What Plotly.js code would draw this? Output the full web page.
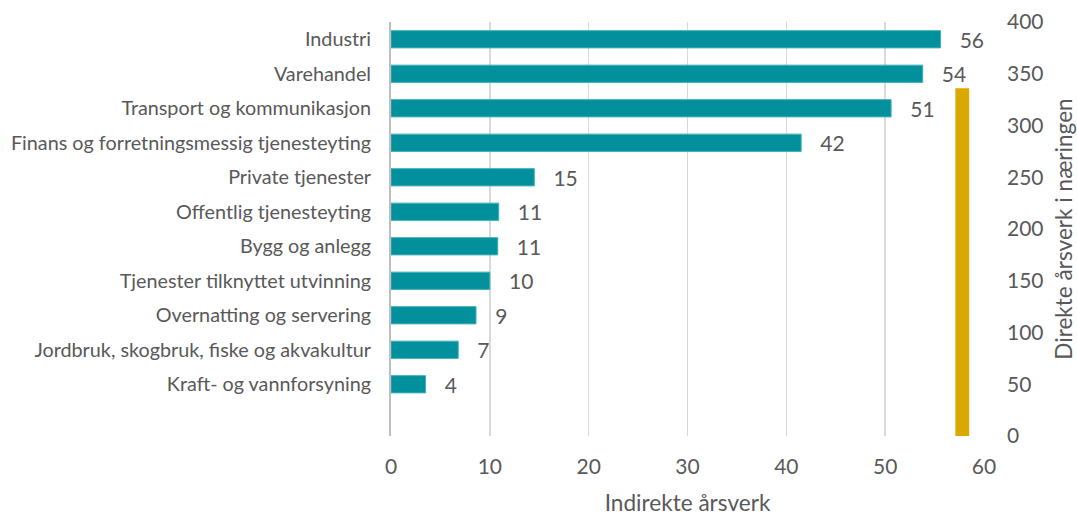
<!DOCTYPE html>
<html>
<head>
<meta charset="utf-8">
<script src="https://cdn.plot.ly/plotly-3.0.1.min.js"></script>
<style>html,body{margin:0;padding:0;background:#fff;}#chart{width:1077px;height:516px;}</style>
</head>
<body>
<div id="chart"></div>
<script>
const categories = [
  "Industri",
  "Varehandel",
  "Transport og kommunikasjon",
  "Finans og forretningsmessig tjenesteyting",
  "Private tjenester",
  "Offentlig tjenesteyting",
  "Bygg og anlegg",
  "Tjenester tilknyttet utvinning",
  "Overnatting og servering",
  "Jordbruk, skogbruk, fiske og akvakultur",
  "Kraft- og vannforsyning"
];
const indirekte = [55.6, 53.8, 50.6, 41.5, 14.5, 10.9, 10.8, 10.0, 8.6, 6.8, 3.5];
const direkteLabel = ["Direkte årsverk i næringen"];
const direkte = [336];

// layout/style constants
const DIRECT_BAR_X = 57.8;
const FONT = "Lato, Open Sans, sans-serif";
const GREY = "#595959";

const traces = [
  {
    type: "bar",
    orientation: "h",
    y: categories,
    x: indirekte,
    xaxis: "x",
    yaxis: "y",
    marker: {color: "#02909c", line: {color: "#3fb0ba", width: 1}},
    texttemplate: "   %{x:.0f}",
    textposition: "outside",
    constraintext: "none",
    cliponaxis: false,
    textfont: {family: FONT, size: 21, color: GREY},
    hoverinfo: "x+y",
    showlegend: false
  },
  {
    type: "bar",
    orientation: "v",
    x: [DIRECT_BAR_X],
    y: direkte,
    name: direkteLabel[0],
    width: 1.4,
    xaxis: "x",
    yaxis: "y2",
    marker: {color: "#dba800"},
    showlegend: false
  }
];

const layout = {
  width: 1077,
  height: 516,
  margin: {l: 391, r: 93, t: 22, b: 80},
  paper_bgcolor: "#fff",
  plot_bgcolor: "#fff",
  font: {family: FONT, color: GREY},
  bargap: 0.5,
  xaxis: {
    range: [0, 60],
    tickvals: [0, 10, 20, 30, 40, 50, 60],
    showgrid: true,
    gridcolor: "#d9d9d9",
    gridwidth: 1.5,
    zeroline: false,
    showline: false,
    ticks: "",
    ticklabelstandoff: 16,
    tickfont: {family: FONT, size: 21, color: GREY},
    title: {text: "Indirekte årsverk", font: {family: FONT, size: 22.6, color: GREY}, standoff: 18},
    fixedrange: true
  },
  yaxis: {
    type: "category",
    categoryorder: "array",
    categoryarray: categories,
    range: [11.5, -0.5],
    showgrid: false,
    zeroline: false,
    showline: true,
    linecolor: "#bfbfbf",
    linewidth: 2,
    ticks: "",
    ticklabelstandoff: 14,
    tickfont: {family: FONT, size: 19.8, color: GREY},
    automargin: false,
    fixedrange: true
  },
  yaxis2: {
    overlaying: "y",
    side: "right",
    range: [0, 400],
    tickvals: [0, 50, 100, 150, 200, 250, 300, 350, 400],
    showgrid: false,
    zeroline: false,
    showline: false,
    ticks: "",
    ticklabelstandoff: 22,
    tickfont: {family: FONT, size: 21, color: GREY},
    title: {text: direkteLabel[0], font: {family: FONT, size: 22.6, color: GREY}, standoff: 18},
    automargin: false,
    fixedrange: true
  }
};

Plotly.newPlot("chart", traces, layout, {displayModeBar: false, staticPlot: true});
</script>
</body>
</html>
